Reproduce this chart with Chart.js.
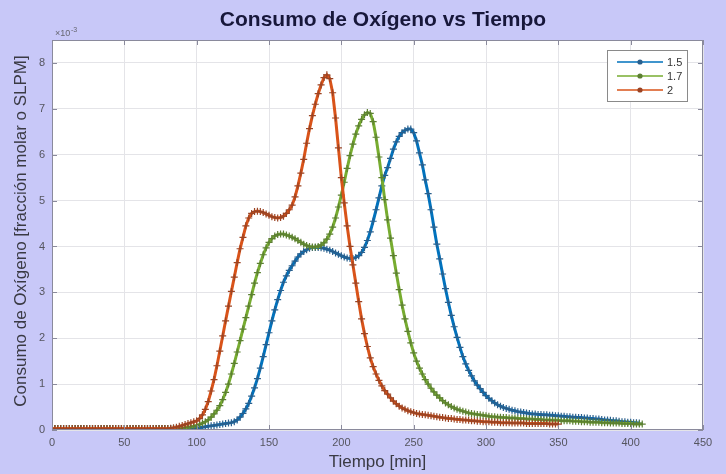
<!DOCTYPE html>
<html>
<head>
<meta charset="utf-8">
<script src="https://cdn.jsdelivr.net/npm/chart.js@4.4.0/dist/chart.umd.min.js"></script>
<style>
  html, body { margin: 0; padding: 0; background: #c8c8f8; }
  #wrap { width: 726px; height: 474px; position: relative; }
</style>
</head>
<body>
<div id="wrap"><canvas id="c" width="726" height="474"></canvas></div>
<script>
// Oxygen consumption (x10^-3, molar fraction or SLPM) sampled every 2 min from t = 0
const sampleStepMin = 2;

const seriesNames = ['1.5', '1.7', '2'];

const o2_15 = [
  0.03, 0.03, 0.03, 0.03, 0.03, 0.03, 0.03, 0.03, 0.03, 0.03,
  0.03, 0.03, 0.03, 0.03, 0.03, 0.03, 0.03, 0.03, 0.03, 0.03,
  0.03, 0.03, 0.03, 0.03, 0.03, 0.03, 0.03, 0.03, 0.03, 0.03,
  0.03, 0.03, 0.03, 0.03, 0.03, 0.03, 0.03, 0.03, 0.03, 0.03,
  0.03, 0.03, 0.03, 0.03, 0.03, 0.03, 0.03, 0.03, 0.03, 0.03,
  0.04, 0.05, 0.06, 0.07, 0.08, 0.09, 0.10, 0.11, 0.12, 0.13,
  0.14, 0.15, 0.16, 0.18, 0.22, 0.28, 0.36, 0.46, 0.58, 0.74,
  0.92, 1.12, 1.35, 1.60, 1.86, 2.12, 2.38, 2.62, 2.84, 3.04,
  3.22, 3.36, 3.48, 3.58, 3.68, 3.77, 3.84, 3.89, 3.93, 3.96,
  3.98, 3.98, 3.98, 3.97, 3.96, 3.94, 3.92, 3.89, 3.86, 3.83,
  3.80, 3.77, 3.75, 3.74, 3.74, 3.76, 3.80, 3.87, 3.98, 4.13,
  4.32, 4.55, 4.80, 5.06, 5.32, 5.55, 5.72, 5.92, 6.12, 6.28,
  6.40, 6.48, 6.53, 6.56, 6.56, 6.48, 6.30, 6.04, 5.78, 5.45,
  5.15, 4.80, 4.42, 4.05, 3.73, 3.40, 3.08, 2.78, 2.50, 2.25,
  2.02, 1.80, 1.60, 1.44, 1.30, 1.18, 1.07, 0.98, 0.90, 0.82,
  0.75, 0.69, 0.64, 0.59, 0.55, 0.52, 0.49, 0.47, 0.45, 0.43,
  0.42, 0.40, 0.39, 0.38, 0.37, 0.36, 0.35, 0.35, 0.34, 0.34,
  0.33, 0.33, 0.32, 0.32, 0.31, 0.31, 0.30, 0.30, 0.29, 0.29,
  0.28, 0.28, 0.27, 0.27, 0.26, 0.26, 0.25, 0.25, 0.24, 0.24,
  0.23, 0.22, 0.22, 0.21, 0.20, 0.20, 0.19, 0.18, 0.18, 0.17,
  0.17, 0.16, 0.16, 0.15
];

const o2_17 = [
  0.03, 0.03, 0.03, 0.03, 0.03, 0.03, 0.03, 0.03, 0.03, 0.03,
  0.03, 0.03, 0.03, 0.03, 0.03, 0.03, 0.03, 0.03, 0.03, 0.03,
  0.03, 0.03, 0.03, 0.03, 0.03, 0.03, 0.03, 0.03, 0.03, 0.03,
  0.03, 0.03, 0.03, 0.03, 0.03, 0.03, 0.03, 0.03, 0.03, 0.03,
  0.03, 0.03, 0.03, 0.03, 0.03, 0.04, 0.05, 0.06, 0.07, 0.08,
  0.10, 0.12, 0.15, 0.18, 0.22, 0.28, 0.35, 0.43, 0.53, 0.66,
  0.82, 1.00, 1.22, 1.45, 1.70, 1.95, 2.20, 2.45, 2.70, 2.95,
  3.20, 3.43, 3.63, 3.82, 3.97, 4.09, 4.17, 4.23, 4.26, 4.27,
  4.27, 4.25, 4.23, 4.20, 4.17, 4.13, 4.09, 4.05, 4.02, 4.00,
  3.99, 3.99, 4.00, 4.03, 4.08, 4.16, 4.27, 4.42, 4.62, 4.86,
  5.12, 5.40, 5.70, 5.98, 6.23, 6.45, 6.63, 6.77, 6.87, 6.92,
  6.90, 6.72, 6.38, 5.95, 5.50, 5.02, 4.58, 4.18, 3.80, 3.42,
  3.06, 2.72, 2.42, 2.15, 1.90, 1.68, 1.50, 1.35, 1.22, 1.10,
  1.00, 0.91, 0.83, 0.76, 0.70, 0.64, 0.59, 0.55, 0.51, 0.48,
  0.45, 0.43, 0.41, 0.39, 0.37, 0.36, 0.35, 0.34, 0.33, 0.32,
  0.31, 0.30, 0.29, 0.29, 0.28, 0.28, 0.27, 0.27, 0.26, 0.26,
  0.26, 0.25, 0.25, 0.25, 0.24, 0.24, 0.24, 0.23, 0.23, 0.23,
  0.22, 0.22, 0.22, 0.21, 0.21, 0.21, 0.20, 0.20, 0.20, 0.20,
  0.19, 0.19, 0.19, 0.18, 0.18, 0.18, 0.17, 0.17, 0.17, 0.17,
  0.16, 0.16, 0.16, 0.15, 0.15, 0.15, 0.15, 0.14, 0.14, 0.14,
  0.14, 0.13, 0.13, 0.13, 0.13
];

const o2_2 = [
  0.03, 0.03, 0.03, 0.03, 0.03, 0.03, 0.03, 0.03, 0.03, 0.03,
  0.03, 0.03, 0.03, 0.03, 0.03, 0.03, 0.03, 0.03, 0.03, 0.03,
  0.03, 0.03, 0.03, 0.03, 0.03, 0.03, 0.03, 0.03, 0.03, 0.03,
  0.03, 0.03, 0.03, 0.03, 0.03, 0.03, 0.03, 0.03, 0.03, 0.03,
  0.03, 0.04, 0.05, 0.06, 0.08, 0.10, 0.12, 0.14, 0.16, 0.18,
  0.20, 0.25, 0.33, 0.45, 0.62, 0.85, 1.10, 1.40, 1.72, 2.05,
  2.38, 2.70, 3.02, 3.33, 3.65, 3.95, 4.20, 4.45, 4.62, 4.72,
  4.76, 4.77, 4.76, 4.74, 4.71, 4.68, 4.65, 4.63, 4.62, 4.63,
  4.66, 4.72, 4.80, 4.90, 5.08, 5.32, 5.60, 5.90, 6.25, 6.57,
  6.85, 7.10, 7.33, 7.52, 7.68, 7.74, 7.66, 7.35, 6.80, 6.15,
  5.50, 4.95, 4.45, 4.00, 3.60, 3.20, 2.80, 2.42, 2.10, 1.82,
  1.57, 1.38, 1.22, 1.08, 0.96, 0.86, 0.78, 0.70, 0.63, 0.57,
  0.52, 0.48, 0.45, 0.42, 0.40, 0.38, 0.36, 0.35, 0.34, 0.33,
  0.32, 0.31, 0.30, 0.29, 0.28, 0.27, 0.26, 0.25, 0.25, 0.24,
  0.23, 0.23, 0.22, 0.22, 0.21, 0.20, 0.20, 0.19, 0.19, 0.18,
  0.18, 0.18, 0.17, 0.17, 0.17, 0.16, 0.16, 0.16, 0.16, 0.15,
  0.15, 0.15, 0.15, 0.15, 0.14, 0.14, 0.14, 0.14, 0.14, 0.14,
  0.14, 0.14, 0.13, 0.13, 0.13, 0.13
];

const xTicks = [0, 50, 100, 150, 200, 250, 300, 350, 400, 450];
const yTicks = [0, 1, 2, 3, 4, 5, 6, 7, 8];

const seriesColors = ['#0072BD', '#77AC30', '#D95319'];
const markerColors = ['#2a5f8c', '#5c7f33', '#9a4424'];

const toPoints = arr => arr.map((v, i) => ({ x: i * sampleStepMin, y: v }));

const FONT = '"Liberation Sans", Arial, sans-serif';

const datasets = [o2_15, o2_17, o2_2].map((arr, k) => ({
  label: seriesNames[k],
  data: toPoints(arr),
  borderColor: seriesColors[k],
  borderWidth: 3,
  pointStyle: 'cross',
  pointRadius: 3.5,
  pointBorderWidth: 1.2,
  pointBorderColor: markerColors[k],
  pointBackgroundColor: markerColors[k],
  tension: 0,
  fill: false,
  order: 2 - k
}));

// Figure background, white axes, box, inward ticks, titles and legend
const decor = {
  id: 'decor',
  beforeDraw(chart) {
    const { ctx, chartArea: a } = chart;
    ctx.save();
    ctx.fillStyle = '#c8c8f8';
    ctx.fillRect(0, 0, chart.width, chart.height);
    ctx.fillStyle = '#ffffff';
    ctx.fillRect(a.left, a.top, a.right - a.left, a.bottom - a.top);
    ctx.restore();
  },
  afterDraw(chart) {
    const { ctx, chartArea: a, scales } = chart;
    ctx.save();
    // axes box
    ctx.strokeStyle = '#8a8a9c';
    ctx.lineWidth = 1;
    ctx.strokeRect(a.left + 0.5, a.top + 0.5, a.right - a.left - 1, a.bottom - a.top - 1);
    // inward tick marks
    ctx.beginPath();
    xTicks.forEach(v => {
      const px = Math.round(scales.x.getPixelForValue(v)) + 0.5;
      ctx.moveTo(px, a.bottom); ctx.lineTo(px, a.bottom - 5);
      ctx.moveTo(px, a.top); ctx.lineTo(px, a.top + 5);
    });
    yTicks.forEach(v => {
      const py = Math.round(scales.y.getPixelForValue(v)) + 0.5;
      ctx.moveTo(a.left, py); ctx.lineTo(a.left + 5, py);
      ctx.moveTo(a.right, py); ctx.lineTo(a.right - 5, py);
    });
    ctx.stroke();

    // title
    ctx.fillStyle = '#17173a';
    ctx.font = 'bold 21px ' + FONT;
    ctx.textAlign = 'center';
    ctx.textBaseline = 'middle';
    ctx.fillText('Consumo de Oxígeno vs Tiempo', 383, 20);

    // axis titles
    ctx.fillStyle = '#3a3a44';
    ctx.font = '17px ' + FONT;
    ctx.fillText('Tiempo [min]', (a.left + a.right) / 2, 462);
    ctx.save();
    ctx.translate(21, 231);
    ctx.rotate(-Math.PI / 2);
    ctx.font = '17px ' + FONT;
    ctx.fillText('Consumo de Oxígeno [fracción molar o SLPM]', 0, 0);
    ctx.restore();

    // exponent marker
    ctx.fillStyle = '#666670';
    ctx.textAlign = 'left';
    ctx.font = '9px ' + FONT;
    ctx.fillText('×10', 55, 34);
    ctx.font = '7px ' + FONT;
    ctx.fillText('-3', 71, 30);

    // legend
    const lx = 607, ly = 50, lw = 80, lh = 51;
    ctx.fillStyle = '#ffffff';
    ctx.fillRect(lx, ly, lw, lh);
    ctx.strokeStyle = '#8a8a8a';
    ctx.strokeRect(lx + 0.5, ly + 0.5, lw, lh);
    ctx.font = '11px ' + FONT;
    ctx.textBaseline = 'middle';
    seriesNames.forEach((name, k) => {
      const y = 62 + k * 14;
      ctx.strokeStyle = seriesColors[k];
      ctx.lineWidth = 1.5;
      ctx.beginPath();
      ctx.moveTo(617, y); ctx.lineTo(663, y);
      ctx.stroke();
      ctx.fillStyle = markerColors[k];
      ctx.beginPath();
      ctx.arc(640, y, 2.6, 0, Math.PI * 2);
      ctx.fill();
      ctx.fillStyle = '#333';
      ctx.fillText(name, 667, y + 1);
    });
    ctx.restore();
  }
};

new Chart(document.getElementById('c'), {
  type: 'line',
  data: { datasets },
  options: {
    responsive: false,
    animation: false,
    devicePixelRatio: 1,
    layout: { padding: { top: 40, right: 23, left: 0, bottom: 0 } },
    plugins: { legend: { display: false }, tooltip: { enabled: false } },
    scales: {
      x: {
        type: 'linear',
        min: 0, max: 450,
        afterBuildTicks: s => { s.ticks = xTicks.map(v => ({ value: v })); },
        afterFit: s => { s.height = 44; },
        grid: { color: '#e4e4e8', drawTicks: false },
        border: { display: false },
        ticks: { padding: 6, color: '#55555f', maxRotation: 0, font: { size: 11, family: FONT } }
      },
      y: {
        min: 0, max: 8.5,
        afterBuildTicks: s => { s.ticks = yTicks.map(v => ({ value: v })); },
        afterFit: s => { s.width = 52; },
        grid: { color: '#e4e4e8', drawTicks: false },
        border: { display: false },
        ticks: { padding: 7, color: '#55555f', font: { size: 11, family: FONT } }
      }
    }
  },
  plugins: [decor]
});
</script>
</body>
</html>
